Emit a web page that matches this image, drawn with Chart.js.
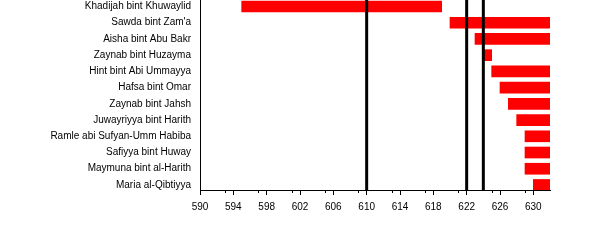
<!DOCTYPE html>
<html>
<head>
<meta charset="utf-8">
<script src="https://cdn.jsdelivr.net/npm/chart.js@4/dist/chart.umd.min.js"></script>
<style>
  html, body { margin: 0; padding: 0; background: #fff; }
  #wrap { width: 600px; height: 250px; }
</style>
</head>
<body>
<div id="wrap"><canvas id="wivesChart" width="600" height="250"></canvas></div>
<script>
// wives, in order of marriage
const wives = [
    'Khadijah bint Khuwaylid', 'Sawda bint Zam\'a', 'Aisha bint Abu Bakr',
    'Zaynab bint Huzayma', 'Hint bint Abi Ummayya', 'Hafsa bint Omar',
    'Zaynab bint Jahsh', 'Juwayriyya bint Harith', 'Ramle abi Sufyan-Umm Habiba',
    'Safiyya bint Huway', 'Maymuna bint al-Harith', 'Maria al-Qibtiyya'
];
const startYear = [595, 620, 623, 624, 625, 626, 627, 628, 629, 629, 629, 630];
const endYear   = [619, 632, 632, 625, 632, 632, 632, 632, 632, 632, 632, 632];

// marker years drawn as vertical lines
const eventYears = [610, 622, 624];

const yearTicks  = [590, 594, 598, 602, 606, 610, 614, 618, 622, 626, 630];
const minorTicks = [593, 597, 601, 605, 609, 613, 617, 621, 625, 629];

// vertical lines + minor tick marks
const markerLines = {
    id: 'markerLines',
    afterDatasetsDraw(chart) {
        const { ctx, chartArea, scales: { x } } = chart;
        ctx.save();
        ctx.strokeStyle = '#000';
        ctx.lineWidth = 3;
        eventYears.forEach(yr => {
            const px = x.getPixelForValue(yr);
            ctx.beginPath();
            ctx.moveTo(px, chartArea.top);
            ctx.lineTo(px, chartArea.bottom);
            ctx.stroke();
        });
        ctx.lineWidth = 1;
        minorTicks.forEach(yr => {
            const px = Math.round(x.getPixelForValue(yr)) + 0.5;
            ctx.beginPath();
            ctx.moveTo(px, chartArea.bottom);
            ctx.lineTo(px, chartArea.bottom + 3);
            ctx.stroke();
        });
        ctx.restore();
    }
};

Chart.defaults.font.family = '"Liberation Sans", Arial, sans-serif';
Chart.defaults.font.size = 10;
Chart.defaults.color = '#000';

new Chart(document.getElementById('wivesChart').getContext('2d'), {
    type: 'bar',
    data: {
        datasets: [{
            data: wives.map((w, i) => ({ x: [startYear[i], endYear[i]], y: i })),
            backgroundColor: '#ff0000',
            borderWidth: 0,
            barThickness: 11
        }]
    },
    options: {
        indexAxis: 'y',
        responsive: false,
        animation: false,
        layout: { padding: { top: 0, right: 50, bottom: 0, left: 0 } },
        scales: {
            x: {
                type: 'linear',
                min: 590,
                max: 632,
                afterBuildTicks: s => { s.ticks = yearTicks.map(v => ({ value: v })); },
                afterFit: s => { s.height = 60; },
                grid: { drawOnChartArea: false, color: '#000', tickLength: 5 },
                border: { color: '#000' },
                ticks: { padding: 6, maxRotation: 0, autoSkip: false }
            },
            y: {
                type: 'linear',
                reverse: true,
                offset: false,
                min: -0.4,
                max: 11.31,
                afterBuildTicks: s => { s.ticks = wives.map((w, i) => ({ value: i })); },
                afterFit: s => { s.width = 200; s.paddingTop = 0; s.paddingBottom = 0; },
                grid: { display: false, offset: false },
                border: { display: true, color: '#000' },
                ticks: { padding: 1, autoSkip: false, callback: v => wives[v] }
            }
        },
        plugins: {
            legend: { display: false },
            tooltip: { enabled: false }
        }
    },
    plugins: [markerLines]
});
</script>
</body>
</html>
